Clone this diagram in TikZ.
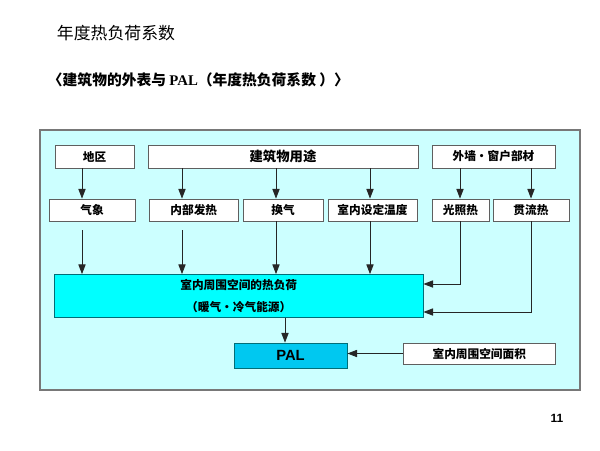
\documentclass[tikz,border=0pt]{standalone}
\usepackage{fontspec}
\usepackage{xcolor}
\usepackage{tikz}
\usetikzlibrary{arrows.meta,positioning,calc}
\newfontfamily\cjk{Noto Sans CJK SC}
\newfontfamily\latinsans{Liberation Sans}
\newfontfamily\latinserif{Liberation Serif}
\definecolor{paleaqua}{RGB}{204,255,255}
\definecolor{loadcyan}{RGB}{0,255,255}
\definecolor{palblue}{RGB}{0,200,240}
\definecolor{framegray}{RGB}{120,120,120}
\definecolor{boxgray}{RGB}{95,95,95}
\definecolor{tealedge}{RGB}{0,110,120}
\tikzset{
  box/.style={draw=boxgray,fill=white,line width=0.6pt,inner sep=0pt,font=\cjk\bfseries\fontsize{8.3}{10}\selectfont},
  arr/.style={-{Triangle[length=2.4mm,width=1.8mm]},line width=0.6pt,draw=black!85}
}

\begin{document}
\begin{tikzpicture}[
  x=0.025cm,y=-0.025cm,
  framebox/.style={
    draw=framegray,
    fill=paleaqua,
    line width=.8pt
  },
  loadbox/.style={
    draw=tealedge,
    fill=loadcyan,
    line width=.6pt,
    inner sep=0pt,
    align=center,
    font=\cjk\bfseries\fontsize{8.3}{15.6}\selectfont
  },
  palbox/.style={
    draw=tealedge,
    fill=palblue,
    line width=.6pt,
    inner sep=0pt,
    font=\latinsans\bfseries\fontsize{10.5}{12}\selectfont
  }
]

\useasboundingbox (0,0) rectangle (600,450);

\node[anchor=west,font=\cjk\fontsize{12}{14}\selectfont] (title) at (52,33)
  {年度热负荷系数};
\node[anchor=west,font=\cjk\bfseries\fontsize{10.5}{12}\selectfont] (subtitle) at (43,80)
  {〈建筑物的外表与 {\latinserif\bfseries PAL}（年度热负荷系数 ）〉};

\draw[framebox] (40,130) rectangle (580,390);

% top row
\node[box,minimum width=1.975cm,minimum height=0.575cm] (diqu) at (94.5,156.5) {地区};
\node[box,minimum width=6.75cm,minimum height=0.575cm,font=\cjk\bfseries\fontsize{9.5}{11}\selectfont] (yongtu) at (283,156.5) {建筑物用途};
\node[box,minimum width=3.075cm,minimum height=0.575cm] (waiqiang) at (493.5,156.5) {外墙・窗户部材};

% second row
\node[box,minimum width=2.15cm,minimum height=0.55cm] (qixiang) at (92,210) {气象};
\node[box,minimum width=2.24cm,minimum height=0.55cm] (neibu) at (193.75,210) {内部发热};
\node[box,minimum width=2.0cm,minimum height=0.55cm] (huanqi) at (283,210) {换气};
\node[box,minimum width=2.225cm,minimum height=0.55cm] (shinei) at (372.5,210) {室内设定温度};
\node[box,minimum width=1.425cm,minimum height=0.55cm] (guangzhao) at (460.5,210) {光照热};
\node[box,minimum width=1.9cm,minimum height=0.55cm] (guanliu) at (531,210) {贯流热};

% load and PAL
\node[loadbox,minimum width=9.2125cm,minimum height=1.075cm] (load) at (238.75,296)
  {室内周围空间的热负荷\\（暖气・冷气能源）};
\node[palbox,minimum width=2.825cm,minimum height=0.625cm] (pal) at (290.5,355.5) {PAL};
\node[box,minimum width=3.785cm,minimum height=0.525cm] (mianji) at (479.3,353.5) {室内周围空间面积};

\coordinate (colA) at (82,0);
\coordinate (colB) at (182,0);
\coordinate (colC) at (276,0);
\coordinate (colD) at (370,0);
\coordinate (colE) at (460,0);
\coordinate (colF) at (531,0);
\coordinate (colP) at (285,0);
\coordinate (gapA) at (82,230);
\coordinate (gapB) at (182,230);
\coordinate (rowL1) at (0,284);
\coordinate (rowL2) at (0,312);

\draw[arr] (diqu.south -| colA) -- (qixiang.north -| colA);
\draw[arr] (yongtu.south -| colB) -- (neibu.north -| colB);
\draw[arr] (yongtu.south -| colC) -- (huanqi.north -| colC);
\draw[arr] (yongtu.south -| colD) -- (shinei.north -| colD);
\draw[arr] (waiqiang.south -| colE) -- (guangzhao.north -| colE);
\draw[arr] (waiqiang.south -| colF) -- (guanliu.north -| colF);

\draw[arr] (gapA) -- (load.north -| gapA);
\draw[arr] (gapB) -- (load.north -| gapB);
\draw[arr] (huanqi.south -| colC) -- (load.north -| colC);
\draw[arr] (shinei.south -| colD) -- (load.north -| colD);
\draw[arr] (guangzhao.south -| colE) |- (load.east |- rowL1);
\draw[arr] (guanliu.south -| colF) |- (load.east |- rowL2);

\draw[arr] (load.south -| colP) -- (pal.north -| colP);
\draw[arr] (mianji.west) -- (pal.east |- mianji.west);

\node[font=\latinsans\bfseries\fontsize{8.5}{10}\selectfont] (pageno) at (557,418) {11};

\end{tikzpicture}
\end{document}
